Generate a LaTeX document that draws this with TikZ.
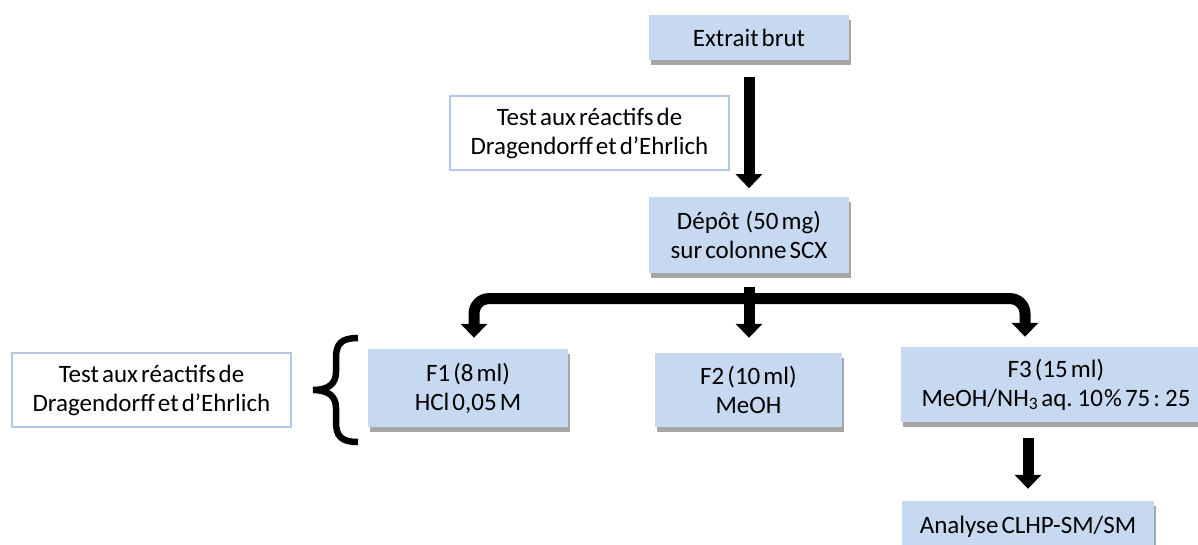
\documentclass[tikz,border=0pt]{standalone}
\usepackage{fontspec}
\setmainfont{Carlito}[WordSpace=0.55]
\usepackage{xcolor}
\usetikzlibrary{arrows.meta,positioning,shadows}
\definecolor{boxblue}{RGB}{198,217,240}
\definecolor{edgeblue}{RGB}{180,199,231}

\begin{document}
\begin{tikzpicture}[x=1pt,y=-1pt,font=\fontsize{25}{29}\selectfont,>={Triangle[width=26pt,length=14pt]}]
  \tikzset{
    fraction/.style={fill=boxblue,align=center,inner sep=0pt,minimum width=200,minimum height=76,
      drop shadow={shadow xshift=1.5pt,shadow yshift=-5pt,opacity=0.35,fill=black}},
    testbox/.style={draw=edgeblue,line width=1.2pt,fill=white,align=center,inner sep=0pt,minimum width=279,minimum height=74},
    flow/.style={->,line width=11pt}
  }
  \useasboundingbox (0,0) rectangle (1198,544);
  \clip (0,0) rectangle (1198,544);
  \node[fraction,minimum height=45] (extrait) at (749,37.5) {Extrait brut};
  \node[fraction,below=137pt of extrait] (depot) {Dépôt~ (50 mg)\\sur colonne SCX};
  \node[testbox] (testA) at (589.5,133) {Test aux réactifs de\\Dragendorff et d’Ehrlich};
  \node[fraction,minimum height=78] (f1) at (468,388) {F1 (8 ml)\\HCl 0,05 M};
  \node[fraction,minimum width=187,minimum height=74] (f2) at (748.5,390) {F2 (10 ml)\\MeOH};
  \node[fraction,minimum width=310,minimum height=75] (f3) at (1056,384.5) {F3 (15 ml)\\MeOH/NH\textsubscript{3} aq. 10\kern1pt\% 75 : 25};
  \node[fraction,minimum width=252,minimum height=52] (analyse) at (1028,527) {Analyse CLHP-SM/SM};
  \node[testbox] (testB) at (151.5,390) {Test aux réactifs de\\Dragendorff et d’Ehrlich};
  \coordinate (bar) at ([yshift=-25pt]depot.south);
  \draw[flow] ([yshift=-17pt]extrait.south) -- ([yshift=9pt]depot.north);
  \draw[flow] ([yshift=-13pt]depot.south) -- ([yshift=15pt]depot.south |- f2.north);
  \draw[flow,rounded corners=15pt] (bar) -| ([xshift=6pt,yshift=11pt]f1.north);
  \draw[flow,rounded corners=15pt] (bar) -| ([xshift=-31pt,yshift=10pt]f3.north);
  \draw[flow] ([yshift=-16pt]analyse.north |- f3.south) -- ([yshift=12pt]analyse.north);
  % accolade
  \draw[line width=6.5pt] (358,338) .. controls (341,338) and (336,344) .. (336,358) -- (336,372)
    .. controls (336,384) and (328,390) .. (313,390) .. controls (328,390) and (336,396) .. (336,408)
    -- (336,422) .. controls (336,436) and (341,442) .. (358,442);
\end{tikzpicture}
\end{document}
